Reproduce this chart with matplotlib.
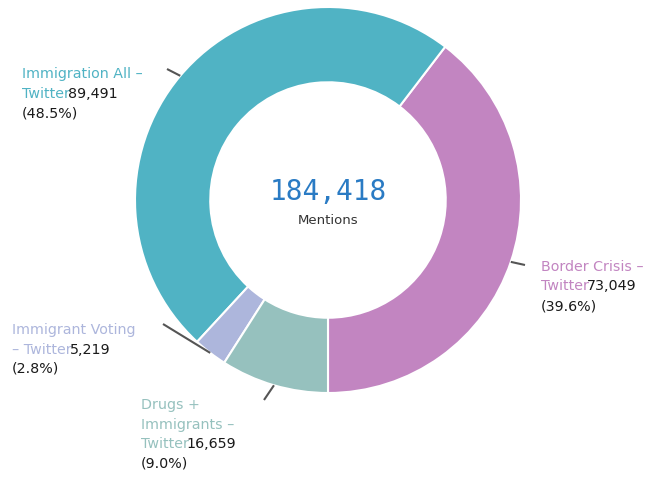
import matplotlib.pyplot as plt
import numpy as np

# data
categories = ['Border Crisis - Twitter', 'Immigration All - Twitter',
              'Immigrant Voting - Twitter', 'Drugs + Immigrants - Twitter']
mentions = [73049, 89491, 5219, 16659]
colors = ['#c285c1', '#50b3c4', '#adb6dc', '#96c1be']
# how each category name is wrapped in its label
name_lines = [['Border Crisis \u2013', 'Twitter'],
              ['Immigration All \u2013', 'Twitter'],
              ['Immigrant Voting', '\u2013 Twitter'],
              ['Drugs +', 'Immigrants \u2013', 'Twitter']]
center_label = 'Mentions'

total = sum(mentions)

# layout, in pixels from top-left
W, H = 648, 478
cx, cy, R = 328, 200, 193
label_pos = [(541, 267), (22, 74), (12, 330), (141, 405)]
leader_end = [(525, 265), (167, 69), (163, 324), (264, 400)]
line_step = 19.5

fig = plt.figure(figsize=(W / 100, H / 100), dpi=100)
ax = fig.add_axes([0, 0, 1, 1])

wedges, _ = ax.pie(mentions, colors=colors, startangle=-90, counterclock=True,
                   center=(cx, H - cy), radius=R,
                   wedgeprops=dict(width=R * 0.39, edgecolor='white', linewidth=1.5))
ax.set_xlim(0, W)
ax.set_ylim(0, H)
ax.set_aspect('equal')
ax.axis('off')

font = 'DejaVu Sans'
fs = 10.3
for i, w in enumerate(wedges):
    mid = np.deg2rad((w.theta1 + w.theta2) / 2)
    start = (cx + R * np.cos(mid), H - cy + R * np.sin(mid))
    ex, ey = leader_end[i]
    ax.plot([start[0], ex], [start[1], H - ey], color='#555555', lw=1.5,
            solid_capstyle='butt')

    x, y = label_pos[i]
    lines = name_lines[i]
    t = None
    for j, s in enumerate(lines):
        t = ax.text(x, H - (y + j * line_step), s, color=colors[i],
                    fontsize=fs, family=font, ha='left', va='center')
    ax.annotate(f'{mentions[i]:,}', xy=(1, 0.5), xycoords=t,
                xytext=(-1.5, 0), textcoords='offset points',
                color='#1a1a1a', fontsize=fs, family=font,
                ha='left', va='center')
    pct = mentions[i] / total * 100
    ax.text(x, H - (y + len(lines) * line_step), f'({pct:.1f}%)',
            color='#1a1a1a', fontsize=fs, family=font, ha='left', va='center')

ax.text(cx, H - 192, f'{total:,}', color='#2a7bc4', fontsize=20,
        family='DejaVu Sans Mono', ha='center', va='center')
ax.text(cx, H - 220, center_label, color='#333333', fontsize=9.5,
        ha='center', va='center')

fig.savefig('out.png', dpi=100)
